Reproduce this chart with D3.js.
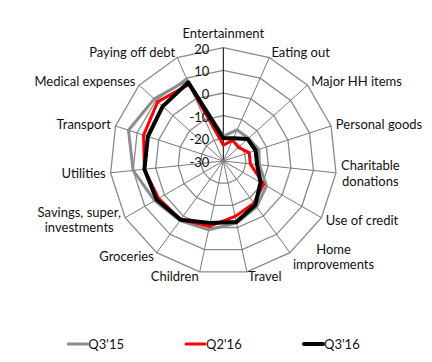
<!DOCTYPE html>
<html><head><meta charset="utf-8">
<script src="https://cdn.jsdelivr.net/npm/d3@7/dist/d3.min.js"></script>
<style>
body{margin:0;background:#fff}
svg{display:block}
text{font-family:Lato,"Open Sans",sans-serif;fill:#111}
</style>
</head><body>
<svg id="chart" width="432" height="362"></svg>
<script>
const categories = ["Entertainment","Eating out","Major HH items","Personal goods","Charitable\ndonations","Use of credit","Home\nimprovements","Travel","Children","Groceries","Savings, super,\ninvestments","Utilities","Transport","Medical expenses","Paying off debt"];
const seriesNames = ["Q3'15","Q2'16","Q3'16"];
const q315 = [-19,-15,-15,-13.5,-14,-8,-5,-2,1,2.5,5,10,14,11,9];
const q216 = [-23,-20,-21,-18,-18,-9.5,-7,-5,-0.5,2,3,5,7,9,7];
const q316 = [-20,-19,-15.5,-15,-15,-11,-6,-2.5,-2,2,4,5,5,6,8];
const tickValues = [-30,-20,-10,0,10,20];
const seriesColors = ["#8c8c8c","#ff0000","#000000"];
const seriesWidths = [3,3,4];

const svg = d3.select("#chart");
const cx = 223.3, cy = 161, R = 113.3;
const r = d3.scaleLinear().domain([-30,20]).range([0,R]);
const n = categories.length;
const ang = d3.scaleLinear().domain([0,n]).range([0,2*Math.PI]);
const g = svg.append("g").attr("transform",`translate(${cx},${cy})`);
const pt = (i,rad)=>[rad*Math.sin(ang(i)), -rad*Math.cos(ang(i))];

// rings
const ringLine = d3.lineRadial().angle((d,i)=>ang(i)).radius(d=>d.r).curve(d3.curveLinearClosed);
tickValues.slice(1).forEach(t=>{
  g.append("path").attr("d",ringLine(categories.map(()=>({r:r(t)}))))
   .attr("fill","none").attr("stroke","#8a8a8a").attr("stroke-width",1.3);
});
// spokes
categories.forEach((c,i)=>{
  const p = pt(i,R);
  g.append("line").attr("x1",0).attr("y1",0).attr("x2",p[0]).attr("y2",p[1])
   .attr("stroke", i===0 ? "#000" : "#7a7a7a").attr("stroke-width",1);
});

// series
const dataLine = d3.lineRadial().angle((d,i)=>ang(i)).radius(d=>r(d)).curve(d3.curveLinearClosed);
[q315,q216,q316].forEach((s,k)=>{
  g.append("path").attr("d",dataLine(s)).attr("fill","none")
   .attr("stroke",seriesColors[k]).attr("stroke-width",seriesWidths[k]).attr("stroke-linejoin","round");
});

// tick labels
tickValues.forEach(t=>{
  g.append("text").attr("x",-14).attr("y",-r(t)+1.5).attr("dy","0.35em")
   .attr("text-anchor","end").attr("font-size",13).text(t);
});

// category labels
categories.forEach((c,i)=>{
  const a = ang(i), s = Math.sin(a), co = Math.cos(a);
  const v = pt(i,R);
  let x = v[0] + s*5, y = v[1] - co*5;
  let anchor = Math.abs(s)<0.1 ? "middle" : (s>0 ? "start" : "end");
  if(i===0){ y = v[1]-14.5; }
  const lines = c.split("\n");
  const lh = 15.5;
  const t = g.append("text").attr("text-anchor", lines.length>1 ? "middle" : anchor).attr("font-size",13);
  let tx = x;
  lines.forEach((ln,j)=>{
    t.append("tspan").attr("x",0).attr("y", y + (j-(lines.length-1)/2)*lh).attr("dy","0.35em").text(ln);
  });
  if(lines.length>1){
    const w = t.node().getBBox().width;
    tx = anchor==="start" ? x + w/2 : x - w/2;
  }
  t.selectAll("tspan").attr("x",tx);
});

// legend
const lx = [68.3,186,304];
seriesNames.forEach((nm,k)=>{
  svg.append("line").attr("x1",lx[k]).attr("x2",lx[k]+19).attr("y1",344).attr("y2",344)
    .attr("stroke",seriesColors[k]).attr("stroke-width",seriesWidths[k]).attr("stroke-linecap","round");
  svg.append("text").attr("x",lx[k]+20).attr("y",344).attr("dy","0.35em").attr("font-size",13).text(nm);
});
</script>
</body></html>
